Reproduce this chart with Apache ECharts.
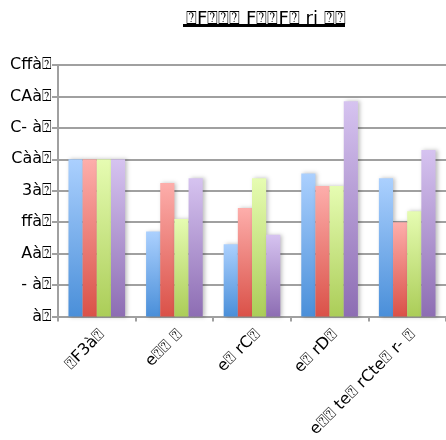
<!DOCTYPE html>
<html><head><meta charset="utf-8">
<script src="https://cdn.jsdelivr.net/npm/echarts@6/dist/echarts.min.js"></script>
<style>html,body{margin:0;padding:0;background:#fff}#c{width:446px;height:440px}</style>
</head><body><div id="c"></div>
<script>
const B = '\u2370';
const titleText = B + 'F' + B + B + B + ' F' + B + B + 'F' + B + ' ri ' + B + B;
const categories = [B + 'F3à' + B, 'e' + B + B + ' ' + B, 'e' + B + ' rC' + B, 'e' + B + ' rD' + B, 'e' + B + B + ' te' + B + ' rCte' + B + ' r- ' + B];
const yTickLabels = {0: 'à' + B, 20: '- à' + B, 40: 'Aà' + B, 60: 'ffà' + B, 80: '3à' + B, 100: 'Càà' + B, 120: 'C- à' + B, 140: 'CAà' + B, 160: 'Cffà' + B};
const seriesA = [100, 54, 46, 91, 88];
const seriesB = [100, 85, 69, 83, 60];
const seriesC = [100, 62, 88, 83, 67];
const seriesD = [100, 88, 52, 137, 106];
const seriesNames = ['S1', 'S2', 'S3', 'S4'];

const grads = [
  ['#abd0fe', '#4a8fd9'],
  ['#fdaeab', '#da5148'],
  ['#e6fcb2', '#abcd58'],
  ['#d6c3f0', '#8d6db3']
];
function grad(c) {
  return {type: 'linear', x: 0, y: 0, x2: 0, y2: 1, colorStops: [{offset: 0, color: c[0]}, {offset: 1, color: c[1]}]};
}
const data = [seriesA, seriesB, seriesC, seriesD];
const font = 'DejaVu Sans';
const chart = echarts.init(document.getElementById('c'), null, {renderer: 'canvas'});
chart.setOption({
  animation: false,
  title: {
    text: titleText, left: 181, top: 5,
    textStyle: {fontFamily: font, fontSize: 18, fontWeight: 'normal', color: '#000'}
  },
  graphic: [{type: 'rect', shape: {x: 183, y: 24, width: 162, height: 3}, style: {fill: '#000'}}],
  grid: {left: 58, right: -2, top: 65, bottom: 120},
  xAxis: {
    type: 'category', data: categories,
    axisLine: {lineStyle: {color: '#a0a0a0', width: 2}},
    axisTick: {show: true, length: 5, lineStyle: {color: '#a0a0a0', width: 2}},
    axisLabel: {rotate: 45, fontFamily: font, fontSize: 16, color: '#000', margin: 10, interval: 0, verticalAlign: 'top'}
  },
  yAxis: {
    type: 'value', min: 0, max: 160, interval: 20,
    axisLine: {show: true, lineStyle: {color: '#a0a0a0', width: 2}},
    axisTick: {show: true, length: 6, lineStyle: {color: '#a0a0a0', width: 2}},
    splitLine: {lineStyle: {color: '#a0a0a0', width: 2}},
    axisLabel: {fontFamily: font, fontSize: 16, color: '#000', margin: 6, formatter: v => yTickLabels[v]}
  },
  series: data.map((d, i) => ({
    name: seriesNames[i], type: 'bar', data: d,
    barGap: '0%', barCategoryGap: '27%',
    itemStyle: {color: grad(grads[i]), shadowColor: 'rgba(0,0,0,0.25)', shadowBlur: 4, shadowOffsetX: 2, shadowOffsetY: 0}
  }))
});
</script></body></html>
